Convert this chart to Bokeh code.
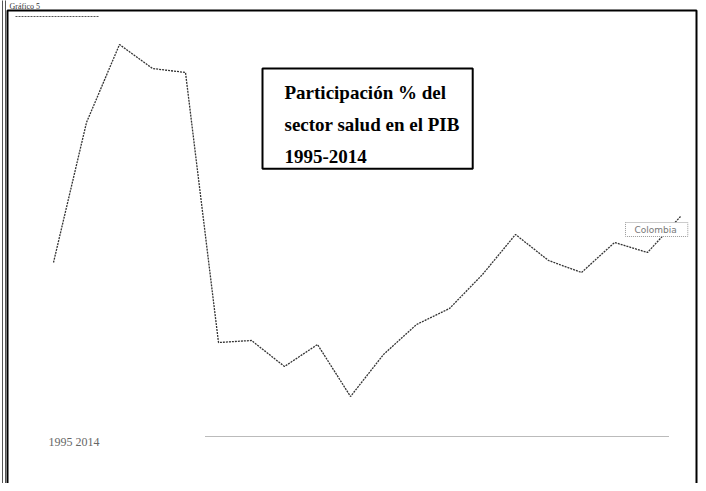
from bokeh.plotting import figure
from bokeh.models import Label, Range1d, Arrow, BoxAnnotation
from bokeh.embed import file_html
from bokeh.resources import INLINE

# Data: share (%) of the health sector in GDP, 1995-2014 (approx.)
years = [1995, 1996, 1997, 1998, 1999, 2000, 2001, 2002, 2003, 2004,
         2005, 2006, 2007, 2008, 2009, 2010, 2011, 2012, 2013, 2014]
share = [1.74, 2.44, 2.83, 2.71, 2.69, 1.34, 1.35, 1.22, 1.33, 1.07,
         1.28, 1.43, 1.51, 1.68, 1.88, 1.75, 1.69, 1.84, 1.79, 1.97]

title_text = "Participación % del\nsector salud en el PIB\n1995-2014"
legend_text = "1995  2014"
point_label = "Colombia"
page_title = "Gráfico 5"

W, H = 698, 483
p = figure(width=W, height=H, output_backend="svg", toolbar_location=None,
           x_range=Range1d(1993.394, 2014.545), y_range=Range1d(0.635, 3.05),
           min_border=0)
p.axis.visible = False
p.grid.visible = False
p.outline_line_color = None
p.background_fill_color = "white"
p.border_fill_color = "white"

# frame box (bottom edge below the visible area)
p.add_layout(BoxAnnotation(left=7, right=696, top=H - 10, bottom=-20,
                           left_units="screen", right_units="screen",
                           top_units="screen", bottom_units="screen",
                           fill_alpha=0, line_color="black", line_alpha=1.0, line_width=2))
# outer double rule on the left
for xx in (2, 5):
    p.add_layout(Arrow(end=None, start=None, x_start=xx, y_start=-5, x_end=xx, y_end=H + 5,
                       start_units="screen", end_units="screen",
                       line_color="#555555", line_width=1))
# page heading (mostly cropped in the scan; kept small and fully visible)
p.add_layout(Label(x=9, y=H - 1, x_units="screen", y_units="screen",
                   text=page_title, text_font="Liberation Serif", text_font_size="8px",
                   text_color="#333333", anchor="top_left"))

p.line(years, share, line_color="#333333", line_width=1.3, line_dash="2 1")

# title box
p.add_layout(Label(x=262, y=H - 68, x_units="screen", y_units="screen",
                   text=title_text, text_font="Liberation Serif", text_font_style="bold",
                   text_font_size="19px", text_color="black", text_line_height=1.53,
                   anchor="top_left",
                   padding=dict(left=22, right=13, top=13, bottom=2),
                   border_line_color="black", border_line_width=2,
                   background_fill_color="white"))

# small point label near last point
p.add_layout(Label(x=625, y=H - 222, x_units="screen", y_units="screen",
                   text=point_label, text_font="DejaVu Sans", text_font_size="9px",
                   text_color="#777777", anchor="top_left",
                   padding=dict(left=9, right=11, top=2, bottom=2),
                   border_line_color="#999999", border_line_width=1, border_line_dash="1 1",
                   background_fill_color="white"))

# bottom legend-like text and dotted rule
p.add_layout(Label(x=48, y=H - 441, x_units="screen", y_units="screen",
                   text=legend_text, text_font="Liberation Serif", text_font_size="12px",
                   text_color="#666666", anchor="center_left"))
p.add_layout(Arrow(end=None, start=None, x_start=205, y_start=H - 436, x_end=668, y_end=H - 436,
                   start_units="screen", end_units="screen",
                   line_color="#777777", line_width=1, line_dash="1 1"))
# top-left dotted rule
p.add_layout(Arrow(end=None, start=None, x_start=15, y_start=H - 16, x_end=98, y_end=H - 16,
                   start_units="screen", end_units="screen",
                   line_color="#555555", line_width=1, line_dash="2 1"))

open("out.html", "w").write(file_html(p, INLINE))
